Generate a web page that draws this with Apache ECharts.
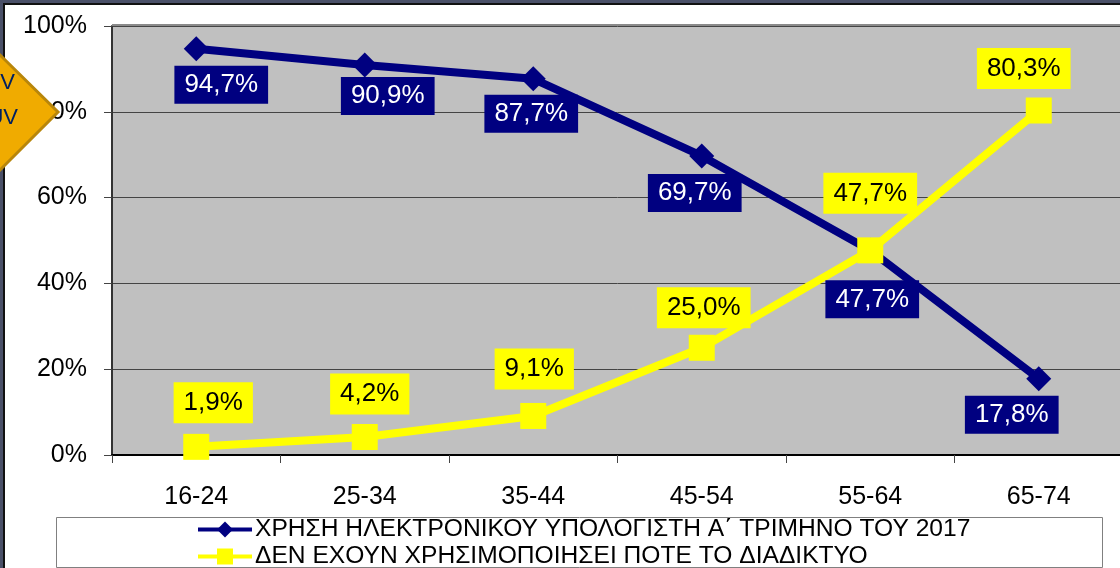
<!DOCTYPE html>
<html>
<head>
<meta charset="utf-8">
<style>
  html, body { margin: 0; padding: 0; background: #fff; overflow: hidden; width: 1120px; height: 568px; }
  /* plot runs a few px past the right edge of the picture */
  #chart { width: 1126px; height: 568px; }
</style>
</head>
<body>
<div id="chart"></div>
<script src="https://cdn.jsdelivr.net/npm/echarts@6/dist/echarts.min.js"></script>
<script>
const ageGroups = ['16-24', '25-34', '35-44', '45-54', '55-64', '65-74'];
const computerUse = [94.7, 90.9, 87.7, 69.7, 47.7, 17.8];
const neverInternet = [1.9, 4.2, 9.1, 25.0, 47.7, 80.3];
const computerName = 'ΧΡΗΣΗ ΗΛΕΚΤΡΟΝΙΚΟΥ ΥΠΟΛΟΓΙΣΤΗ Α΄ ΤΡΙΜΗΝΟ ΤΟΥ 2017';
const neverName = 'ΔΕΝ ΕΧΟΥΝ ΧΡΗΣΙΜΟΠΟΙΗΣΕΙ ΠΟΤΕ ΤΟ ΔΙΑΔΙΚΤΥΟ';

// hand placed label offsets from the marker
const computerOffsets = [[25, 36], [23, 31], [-2, 35], [-7, 37], [2, 49], [-27, 36]];
const neverOffsets = [[17, -44], [5, -43], [1, -47], [2, -40], [0, -57], [-15, -42]];

const font = '"Liberation Sans", Arial, sans-serif';

function points(values, offsets) {
  return values.map((v, i) => ({ value: v, label: { offset: offsets[i] } }));
}

function percent(v) {
  return v.toFixed(1).replace('.', ',') + '%';
}

const chart = echarts.init(document.getElementById('chart'), null, { renderer: 'canvas' });

chart.setOption({
  animation: false,
  backgroundColor: '#fff',
  textStyle: { fontFamily: font },
  grid: {
    left: 112, top: 26, width: 1011, height: 429,
    show: true, backgroundColor: '#c0c0c0', borderWidth: 0
  },
  legend: {
    orient: 'vertical', left: 196, top: 517, height: 120, padding: 0, itemGap: 2,
    itemWidth: 54, itemHeight: 20,
    lineStyle: { width: 4 },
    textStyle: { fontFamily: font, fontSize: 24.6, lineHeight: 24, color: '#000', padding: [0, 0, 0, -2] },
    data: [computerName, neverName]
  },
  xAxis: {
    type: 'category', data: ageGroups, boundaryGap: true,
    axisLine: { lineStyle: { color: '#000', width: 2 } },
    axisTick: { show: true, length: 8, alignWithLabel: false, lineStyle: { color: '#444' } },
    axisLabel: { color: '#000', fontSize: 25, fontFamily: font, margin: 30 }
  },
  yAxis: {
    type: 'value', min: 0, max: 100, interval: 20,
    axisLine: { show: true, lineStyle: { color: '#333', width: 2 } },
    axisTick: { show: true, length: 8, lineStyle: { color: '#444' } },
    axisLabel: { color: '#000', fontSize: 25, fontFamily: font, margin: 25, padding: [8, 0, 0, 0], formatter: '{value}%' },
    splitLine: { show: true, lineStyle: { color: '#444', width: 1 } }
  },
  series: [
    {
      name: computerName, type: 'line', data: points(computerUse, computerOffsets),
      symbol: 'diamond', symbolSize: 25,
      lineStyle: { color: '#000080', width: 8 },
      itemStyle: { color: '#000080' },
      label: {
        show: true, position: 'inside', color: '#fff', fontSize: 26, fontFamily: font,
        backgroundColor: '#000080', padding: [7, 10, 5, 10],
        formatter: p => percent(p.value)
      }
    },
    {
      name: neverName, type: 'line', data: points(neverInternet, neverOffsets),
      symbol: 'rect', symbolSize: 26,
      lineStyle: { color: '#ffff00', width: 8 },
      itemStyle: { color: '#ffff00' },
      label: {
        show: true, position: 'inside', color: '#000', fontSize: 26, fontFamily: font,
        backgroundColor: '#ffff00', padding: [8, 10, 7, 10],
        formatter: p => percent(p.value)
      }
    }
  ],
  graphic: [
    // top edge of the plot
    { type: 'rect', z: 1, shape: { x: 112, y: 24, width: 1014, height: 2 }, style: { fill: '#8a8a8a' } },
    // legend box
    { type: 'rect', z: 0, shape: { x: 56.5, y: 517.5, width: 1046, height: 50 }, style: { fill: '#fff', stroke: '#808080', lineWidth: 1 } },
    // slide frame
    { type: 'rect', z: 20, shape: { x: 0, y: 0, width: 1126, height: 3 }, style: { fill: '#4a5068' } },
    { type: 'rect', z: 20, shape: { x: 0, y: 3, width: 1126, height: 2 }, style: { fill: '#111' } },
    { type: 'rect', z: 20, shape: { x: 0, y: 0, width: 3, height: 568 }, style: { fill: '#4a5068' } },
    { type: 'rect', z: 20, shape: { x: 3, y: 3, width: 2, height: 565 }, style: { fill: '#111' } },
    // orange callout cut off by the slide edge
    {
      type: 'polygon', z: 30,
      shape: { points: [[-60, 112], [0, 55], [58, 112], [0, 170]] },
      style: { fill: '#f0ab00', stroke: '#b8860b', lineWidth: 3 }
    },
    { type: 'text', z: 31, x: 15, y: 83, style: { text: 'V', align: 'right', verticalAlign: 'middle', fill: '#002060', font: '22px ' + font } },
    { type: 'text', z: 31, x: 18, y: 118, style: { text: 'UV', align: 'right', verticalAlign: 'middle', fill: '#002060', font: '22px ' + font } }
  ]
});
</script>
</body>
</html>
